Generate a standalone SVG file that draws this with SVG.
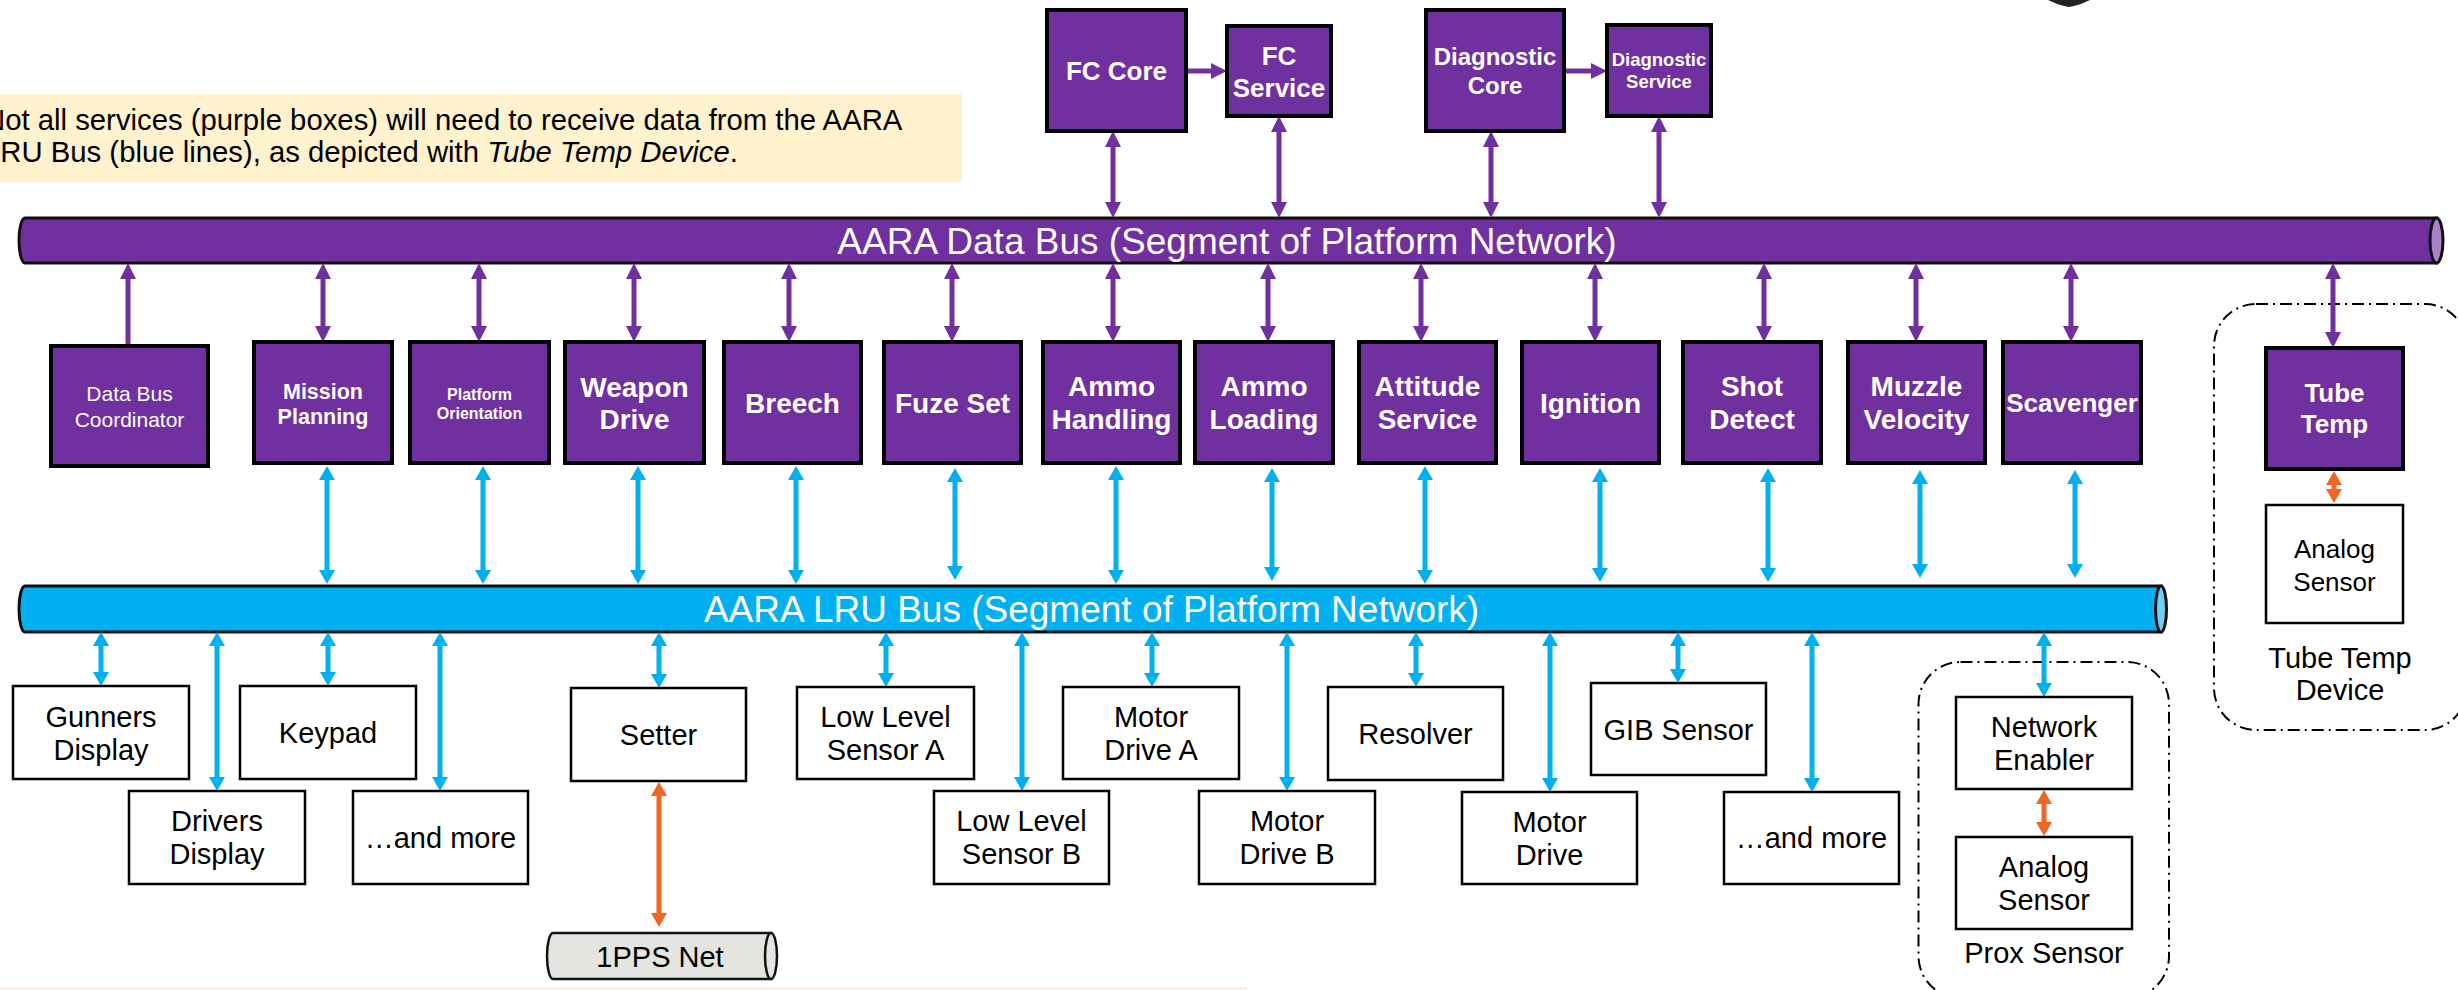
<svg xmlns="http://www.w3.org/2000/svg" width="2458" height="990" viewBox="0 0 2458 990">
  <style>
    text { font-family: "Liberation Sans", Arial, sans-serif; }
    .pb { fill: #7030A0; stroke: #000; stroke-width: 4; }
    .wb { fill: #fff; stroke: #000; stroke-width: 2.5; }
    .pt { fill: #fff; font-weight: bold; text-anchor: middle; }
    .wt { fill: #000; font-size: 29px; text-anchor: middle; }
    .lp { stroke: #7030A0; stroke-width: 5; fill: none; }
    .lb { stroke: #00B0F0; stroke-width: 5; fill: none; }
    .lo { stroke: #F26522; stroke-width: 5; fill: none; }
    .grp { fill: none; stroke: #000; stroke-width: 2; stroke-dasharray: 12 5 2 5; }
    .bus { stroke: #111; stroke-width: 3; }
    .bt { fill: #fff; font-size: 37px; text-anchor: middle; }
  </style>
  <defs>
    <marker id="ap" viewBox="0 0 16 16" markerWidth="16" markerHeight="16" refX="1" refY="8" orient="auto-start-reverse" markerUnits="userSpaceOnUse">
      <path d="M0,0 L16,8 L0,16 Z" fill="#7030A0"/>
    </marker>
    <marker id="ab" viewBox="0 0 14 16" markerWidth="14" markerHeight="16" refX="1" refY="8" orient="auto-start-reverse" markerUnits="userSpaceOnUse">
      <path d="M0,0 L14,8 L0,16 Z" fill="#00B0F0"/>
    </marker>
    <marker id="ao" viewBox="0 0 14 16" markerWidth="14" markerHeight="16" refX="1" refY="8" orient="auto-start-reverse" markerUnits="userSpaceOnUse">
      <path d="M0,0 L14,8 L0,16 Z" fill="#F26522"/>
    </marker>
  </defs>

  <rect width="2458" height="990" fill="#fff"/>

  <!-- partial dark shape at the top edge -->
  <path d="M2048,0 Q2056,4 2064,6 L2069,7 L2074,6 Q2082,4 2090,0 Z" fill="#222"/>

  <!-- note -->
  <g id="note">
    <rect x="0" y="94" width="962" height="88" fill="#FFF2CC"/>
    <text x="-16" y="130" font-size="29.3" fill="#000">Not all services (purple boxes) will need to receive data from the AARA</text>
    <text x="-16" y="162" font-size="29.3" fill="#000">LRU Bus (blue lines), as depicted with <tspan font-style="italic">Tube Temp Device</tspan>.</text>
  </g>

  <!-- bottom strip -->
  <rect x="0" y="987" width="1247" height="3" fill="#F8F2DE"/>

  <!-- buses -->
  <g id="data-bus">
    <path class="bus" d="M2436.5,218 L25,218 A6,22.5 0 0 0 25,263 L2436.5,263 Z" fill="#7030A0"/>
    <ellipse class="bus" cx="2436.5" cy="240.5" rx="6.5" ry="22.5" fill="#A983C9"/>
    <text class="bt" x="1227" y="254">AARA Data Bus (Segment of Platform Network)</text>
  </g>
  <g id="lru-bus">
    <path class="bus" d="M2161,586 L25,586 A6,23 0 0 0 25,632 L2161,632 Z" fill="#00B0F0"/>
    <ellipse class="bus" cx="2161" cy="609" rx="5.5" ry="23" fill="#6FD0F5"/>
    <text class="bt" x="1091.5" y="622">AARA LRU Bus (Segment of Platform Network)</text>
  </g>
  <g id="pps-net">
    <path d="M771,933 L553,933 A6,23 0 0 0 553,979 L771,979 Z" fill="#E4E4E0" stroke="#111" stroke-width="2.5"/>
    <ellipse cx="771" cy="956" rx="6" ry="23" fill="#E4E4E0" stroke="#111" stroke-width="2.5"/>
    <text class="wt" x="660" y="967">1PPS Net</text>
  </g>

  <!-- device groupings -->
  <g id="tube-temp-device">
    <rect class="grp" x="2214" y="304" width="253" height="426" rx="42"/>
    <text class="wt" x="2340" y="668">Tube Temp</text>
    <text class="wt" x="2340" y="700">Device</text>
  </g>
  <g id="prox-sensor">
    <rect class="grp" x="1918.5" y="662" width="250.5" height="336" rx="42"/>
    <text class="wt" x="2044" y="963">Prox Sensor</text>
  </g>

  <!-- connectors -->
  <g id="connectors">
    <!-- core services to data bus -->
    <line class="lp" x1="1113" y1="146" x2="1113" y2="203" marker-start="url(#ap)" marker-end="url(#ap)"/>
    <line class="lp" x1="1279" y1="131" x2="1279" y2="203" marker-start="url(#ap)" marker-end="url(#ap)"/>
    <line class="lp" x1="1491" y1="146" x2="1491" y2="203" marker-start="url(#ap)" marker-end="url(#ap)"/>
    <line class="lp" x1="1659" y1="131" x2="1659" y2="203" marker-start="url(#ap)" marker-end="url(#ap)"/>
    <line class="lp" x1="1186" y1="71" x2="1212" y2="71" marker-end="url(#ap)"/>
    <line class="lp" x1="1564" y1="71" x2="1592" y2="71" marker-end="url(#ap)"/>

    <!-- data bus to services -->
    <line class="lp" x1="128" y1="278" x2="128" y2="346" marker-start="url(#ap)"/>
    <line class="lp" x1="323" y1="278" x2="323" y2="327" marker-start="url(#ap)" marker-end="url(#ap)"/>
    <line class="lp" x1="479" y1="278" x2="479" y2="327" marker-start="url(#ap)" marker-end="url(#ap)"/>
    <line class="lp" x1="634" y1="278" x2="634" y2="327" marker-start="url(#ap)" marker-end="url(#ap)"/>
    <line class="lp" x1="789" y1="278" x2="789" y2="327" marker-start="url(#ap)" marker-end="url(#ap)"/>
    <line class="lp" x1="952" y1="278" x2="952" y2="327" marker-start="url(#ap)" marker-end="url(#ap)"/>
    <line class="lp" x1="1113" y1="278" x2="1113" y2="327" marker-start="url(#ap)" marker-end="url(#ap)"/>
    <line class="lp" x1="1268" y1="278" x2="1268" y2="327" marker-start="url(#ap)" marker-end="url(#ap)"/>
    <line class="lp" x1="1421" y1="278" x2="1421" y2="327" marker-start="url(#ap)" marker-end="url(#ap)"/>
    <line class="lp" x1="1595" y1="278" x2="1595" y2="327" marker-start="url(#ap)" marker-end="url(#ap)"/>
    <line class="lp" x1="1764" y1="278" x2="1764" y2="327" marker-start="url(#ap)" marker-end="url(#ap)"/>
    <line class="lp" x1="1916" y1="278" x2="1916" y2="327" marker-start="url(#ap)" marker-end="url(#ap)"/>
    <line class="lp" x1="2071" y1="278" x2="2071" y2="327" marker-start="url(#ap)" marker-end="url(#ap)"/>
    <line class="lp" x1="2333" y1="278" x2="2333" y2="333" marker-start="url(#ap)" marker-end="url(#ap)"/>

    <!-- services to LRU bus -->
    <line class="lb" x1="327" y1="479" x2="327" y2="571" marker-start="url(#ab)" marker-end="url(#ab)"/>
    <line class="lb" x1="483" y1="479" x2="483" y2="571" marker-start="url(#ab)" marker-end="url(#ab)"/>
    <line class="lb" x1="638" y1="479" x2="638" y2="571" marker-start="url(#ab)" marker-end="url(#ab)"/>
    <line class="lb" x1="796" y1="479" x2="796" y2="571" marker-start="url(#ab)" marker-end="url(#ab)"/>
    <line class="lb" x1="955" y1="481" x2="955" y2="567" marker-start="url(#ab)" marker-end="url(#ab)"/>
    <line class="lb" x1="1116" y1="479" x2="1116" y2="571" marker-start="url(#ab)" marker-end="url(#ab)"/>
    <line class="lb" x1="1272" y1="481" x2="1272" y2="568" marker-start="url(#ab)" marker-end="url(#ab)"/>
    <line class="lb" x1="1425" y1="479" x2="1425" y2="571" marker-start="url(#ab)" marker-end="url(#ab)"/>
    <line class="lb" x1="1600" y1="481" x2="1600" y2="569" marker-start="url(#ab)" marker-end="url(#ab)"/>
    <line class="lb" x1="1768" y1="481" x2="1768" y2="569" marker-start="url(#ab)" marker-end="url(#ab)"/>
    <line class="lb" x1="1920" y1="483" x2="1920" y2="565" marker-start="url(#ab)" marker-end="url(#ab)"/>
    <line class="lb" x1="2075" y1="483" x2="2075" y2="565" marker-start="url(#ab)" marker-end="url(#ab)"/>

    <!-- LRU bus to devices -->
    <line class="lb" x1="101" y1="645" x2="101" y2="673" marker-start="url(#ab)" marker-end="url(#ab)"/>
    <line class="lb" x1="217" y1="645" x2="217" y2="778" marker-start="url(#ab)" marker-end="url(#ab)"/>
    <line class="lb" x1="328" y1="645" x2="328" y2="673" marker-start="url(#ab)" marker-end="url(#ab)"/>
    <line class="lb" x1="440" y1="645" x2="440" y2="778" marker-start="url(#ab)" marker-end="url(#ab)"/>
    <line class="lb" x1="659" y1="645" x2="659" y2="675" marker-start="url(#ab)" marker-end="url(#ab)"/>
    <line class="lb" x1="886" y1="645" x2="886" y2="674" marker-start="url(#ab)" marker-end="url(#ab)"/>
    <line class="lb" x1="1022" y1="645" x2="1022" y2="778" marker-start="url(#ab)" marker-end="url(#ab)"/>
    <line class="lb" x1="1152" y1="645" x2="1152" y2="674" marker-start="url(#ab)" marker-end="url(#ab)"/>
    <line class="lb" x1="1287" y1="645" x2="1287" y2="778" marker-start="url(#ab)" marker-end="url(#ab)"/>
    <line class="lb" x1="1416" y1="645" x2="1416" y2="674" marker-start="url(#ab)" marker-end="url(#ab)"/>
    <line class="lb" x1="1550" y1="645" x2="1550" y2="779" marker-start="url(#ab)" marker-end="url(#ab)"/>
    <line class="lb" x1="1678" y1="645" x2="1678" y2="670" marker-start="url(#ab)" marker-end="url(#ab)"/>
    <line class="lb" x1="1812" y1="645" x2="1812" y2="779" marker-start="url(#ab)" marker-end="url(#ab)"/>
    <line class="lb" x1="2044" y1="645" x2="2044" y2="684" marker-start="url(#ab)" marker-end="url(#ab)"/>

    <!-- local links -->
    <line class="lo" x1="659" y1="795" x2="659" y2="914" marker-start="url(#ao)" marker-end="url(#ao)"/>
    <line class="lo" x1="2044" y1="803" x2="2044" y2="823" marker-start="url(#ao)" marker-end="url(#ao)"/>
    <line class="lo" x1="2334" y1="484" x2="2334" y2="490" marker-start="url(#ao)" marker-end="url(#ao)"/>
  </g>

  <!-- core services -->
  <g id="fc-core">
    <rect class="pb" x="1047" y="10" width="139" height="121"/>
    <text class="pt" x="1116.5" y="80" font-size="26">FC Core</text>
  </g>
  <g id="fc-service">
    <rect class="pb" x="1227" y="26" width="104" height="90"/>
    <text class="pt" x="1279" y="64.5" font-size="26">FC</text>
    <text class="pt" x="1279" y="96.5" font-size="26">Service</text>
  </g>
  <g id="diagnostic-core">
    <rect class="pb" x="1426" y="10" width="138" height="121"/>
    <text class="pt" x="1495" y="65" font-size="24">Diagnostic</text>
    <text class="pt" x="1495" y="94" font-size="24">Core</text>
  </g>
  <g id="diagnostic-service">
    <rect class="pb" x="1607" y="25" width="104" height="91"/>
    <text class="pt" x="1659" y="65.5" font-size="18.5">Diagnostic</text>
    <text class="pt" x="1659" y="87.5" font-size="18.5">Service</text>
  </g>

  <!-- services -->
  <g id="data-bus-coordinator">
    <rect class="pb" x="51" y="346" width="157" height="120"/>
    <text x="129.5" y="401" font-size="21" fill="#fff" text-anchor="middle">Data Bus</text>
    <text x="129.5" y="427" font-size="21" fill="#fff" text-anchor="middle">Coordinator</text>
  </g>
  <g id="mission-planning">
    <rect class="pb" x="254" y="342" width="138" height="121"/>
    <text class="pt" x="323" y="398.5" font-size="21.5">Mission</text>
    <text class="pt" x="323" y="423.5" font-size="21.5">Planning</text>
  </g>
  <g id="platform-orientation">
    <rect class="pb" x="410" y="342" width="139" height="121"/>
    <text class="pt" x="479.5" y="400" font-size="16">Platform</text>
    <text class="pt" x="479.5" y="419" font-size="16">Orientation</text>
  </g>
  <g id="weapon-drive">
    <rect class="pb" x="565" y="342" width="139" height="121"/>
    <text class="pt" x="634.5" y="396.5" font-size="28">Weapon</text>
    <text class="pt" x="634.5" y="429" font-size="28">Drive</text>
  </g>
  <g id="breech">
    <rect class="pb" x="724" y="342" width="137" height="121"/>
    <text class="pt" x="792.5" y="413" font-size="28">Breech</text>
  </g>
  <g id="fuze-set">
    <rect class="pb" x="884" y="342" width="137" height="121"/>
    <text class="pt" x="952.5" y="413" font-size="28">Fuze Set</text>
  </g>
  <g id="ammo-handling">
    <rect class="pb" x="1043" y="342" width="137" height="121"/>
    <text class="pt" x="1111.5" y="396" font-size="28">Ammo</text>
    <text class="pt" x="1111.5" y="429" font-size="28">Handling</text>
  </g>
  <g id="ammo-loading">
    <rect class="pb" x="1195" y="342" width="138" height="121"/>
    <text class="pt" x="1264" y="396" font-size="28">Ammo</text>
    <text class="pt" x="1264" y="429" font-size="28">Loading</text>
  </g>
  <g id="attitude-service">
    <rect class="pb" x="1359" y="342" width="137" height="121"/>
    <text class="pt" x="1427.5" y="396" font-size="28">Attitude</text>
    <text class="pt" x="1427.5" y="429" font-size="28">Service</text>
  </g>
  <g id="ignition">
    <rect class="pb" x="1522" y="342" width="137" height="121"/>
    <text class="pt" x="1590.5" y="413" font-size="28">Ignition</text>
  </g>
  <g id="shot-detect">
    <rect class="pb" x="1683" y="342" width="138" height="121"/>
    <text class="pt" x="1752" y="396" font-size="28">Shot</text>
    <text class="pt" x="1752" y="429" font-size="28">Detect</text>
  </g>
  <g id="muzzle-velocity">
    <rect class="pb" x="1848" y="342" width="137" height="121"/>
    <text class="pt" x="1916.5" y="396" font-size="28">Muzzle</text>
    <text class="pt" x="1916.5" y="429" font-size="28">Velocity</text>
  </g>
  <g id="scavenger">
    <rect class="pb" x="2003" y="342" width="138" height="121"/>
    <text class="pt" x="2072" y="412" font-size="26">Scavenger</text>
  </g>
  <g id="tube-temp">
    <rect class="pb" x="2266" y="348" width="137" height="121"/>
    <text class="pt" x="2334.5" y="402" font-size="26">Tube</text>
    <text class="pt" x="2334.5" y="433" font-size="26">Temp</text>
  </g>
  <g id="tube-temp-analog-sensor">
    <rect class="wb" x="2266" y="505" width="137" height="118"/>
    <text class="wt" x="2334.5" y="558" font-size="26" style="font-size:26px">Analog</text>
    <text class="wt" x="2334.5" y="591" style="font-size:26px">Sensor</text>
  </g>

  <!-- LRU devices -->
  <g id="gunners-display">
    <rect class="wb" x="13" y="686" width="176" height="93"/>
    <text class="wt" x="101" y="726.5">Gunners</text>
    <text class="wt" x="101" y="759.5">Display</text>
  </g>
  <g id="drivers-display">
    <rect class="wb" x="129" y="791" width="176" height="93"/>
    <text class="wt" x="217" y="831">Drivers</text>
    <text class="wt" x="217" y="864">Display</text>
  </g>
  <g id="keypad">
    <rect class="wb" x="240" y="686" width="176" height="93"/>
    <text class="wt" x="328" y="743">Keypad</text>
  </g>
  <g id="and-more-1">
    <rect class="wb" x="353" y="791" width="175" height="93"/>
    <text class="wt" x="440.5" y="848">…and more</text>
  </g>
  <g id="setter">
    <rect class="wb" x="571" y="688" width="175" height="93"/>
    <text class="wt" x="658.5" y="745">Setter</text>
  </g>
  <g id="low-level-sensor-a">
    <rect class="wb" x="797" y="687" width="177" height="92"/>
    <text class="wt" x="885.5" y="727">Low Level</text>
    <text class="wt" x="885.5" y="760">Sensor A</text>
  </g>
  <g id="low-level-sensor-b">
    <rect class="wb" x="934" y="791" width="175" height="93"/>
    <text class="wt" x="1021.5" y="831">Low Level</text>
    <text class="wt" x="1021.5" y="864">Sensor B</text>
  </g>
  <g id="motor-drive-a">
    <rect class="wb" x="1063" y="687" width="176" height="92"/>
    <text class="wt" x="1151" y="727">Motor</text>
    <text class="wt" x="1151" y="760">Drive A</text>
  </g>
  <g id="motor-drive-b">
    <rect class="wb" x="1199" y="791" width="176" height="93"/>
    <text class="wt" x="1287" y="831">Motor</text>
    <text class="wt" x="1287" y="864">Drive B</text>
  </g>
  <g id="resolver">
    <rect class="wb" x="1328" y="687" width="175" height="93"/>
    <text class="wt" x="1415.5" y="744">Resolver</text>
  </g>
  <g id="motor-drive">
    <rect class="wb" x="1462" y="792" width="175" height="92"/>
    <text class="wt" x="1549.5" y="832">Motor</text>
    <text class="wt" x="1549.5" y="865">Drive</text>
  </g>
  <g id="gib-sensor">
    <rect class="wb" x="1591" y="683" width="175" height="92"/>
    <text class="wt" x="1678.5" y="739.5">GIB Sensor</text>
  </g>
  <g id="and-more-2">
    <rect class="wb" x="1724" y="792" width="175" height="92"/>
    <text class="wt" x="1811.5" y="848">…and more</text>
  </g>
  <g id="network-enabler">
    <rect class="wb" x="1956" y="697" width="176" height="92"/>
    <text class="wt" x="2044" y="737">Network</text>
    <text class="wt" x="2044" y="770">Enabler</text>
  </g>
  <g id="prox-analog-sensor">
    <rect class="wb" x="1956" y="837" width="176" height="92"/>
    <text class="wt" x="2044" y="877">Analog</text>
    <text class="wt" x="2044" y="910">Sensor</text>
  </g>
</svg>
